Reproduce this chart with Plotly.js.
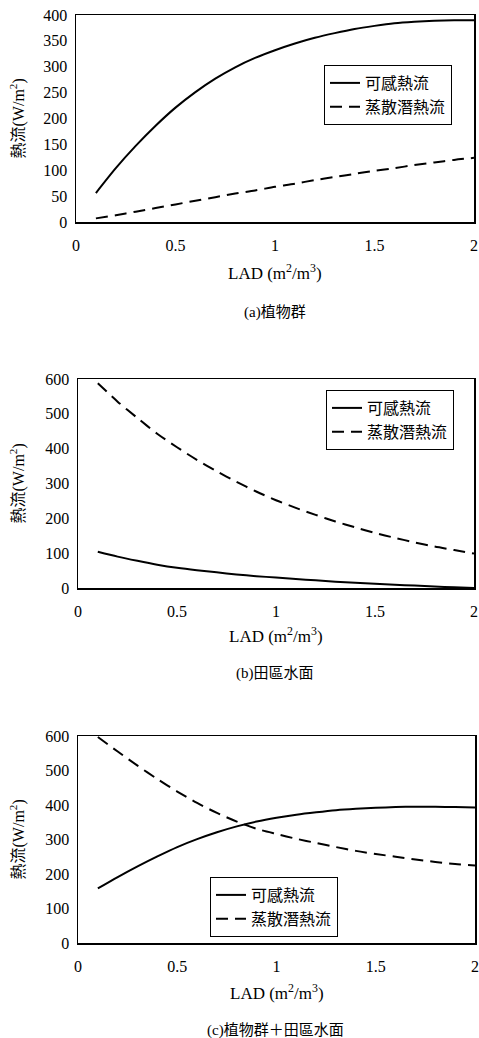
<!DOCTYPE html>
<html>
<head>
<meta charset="utf-8">
<script src="https://cdn.plot.ly/plotly-3.0.1.min.js"></script>
<style>
html,body{margin:0;padding:0;background:#fff;}
#chart{width:479px;height:1038px;}
</style>
</head>
<body>
<div id="chart"></div>
<script>
// LAD (m2/m3)
const lad = [0.1,0.2,0.3,0.4,0.5,0.6,0.7,0.8,0.9,1.0,1.1,1.2,1.3,1.4,1.5,1.6,1.7,1.8,1.9,2.0];

// (a) 植物群
const sensibleA = [56,104,147,186,221,251,277,299,317,332,345,356,365,373,379,384,387,389,390,390];
const latentA   = [7,13,20,27,34,41,48,55,61,68,74,81,87,93,99,104,110,115,120,124];

// (b) 田區水面
const sensibleB = [104,90,78,67,58,51,45,39,34,30,26,22,18,15,12,9,7,4,2,0];
const latentB   = [588,535,488,443,404,368,335,305,277,252,230,210,191,174,158,144,131,119,109,99];

// (c) 植物群＋田區水面
const sensibleC = [158,191,222,251,278,301,321,338,352,363,372,379,385,389,392,394,395,395,394,393];
const latentC   = [597,555,514,475,439,406,377,352,331,316,302,290,278,267,258,250,242,235,229,225];

const seriesNames = ['可感熱流', '蒸散潛熱流'];
const captions = ['(a)植物群', '(b)田區水面', '(c)植物群＋田區水面'];
const yTitle = '熱流(W/m<sup>2</sup>)';
const xTitle = 'LAD (m<sup>2</sup>/m<sup>3</sup>)';
const yRanges = [[0,400],[0,600],[0,600]];
const yDticks = [50,100,100];

const W = 479, H = 1038;
const px = v => v / W;
const py = v => 1 - v / H;

// panel geometry (pixels)
const panels = [
  {l:76, r:474, t:15,  b:222, legX:324, legY:65,  xt:272, cap:312},
  {l:78, r:474, t:379, b:588, legX:326, legY:390, xt:635, cap:673},
  {l:78, r:475, t:736, b:943, legX:210, legY:877, xt:992, cap:1030}
];

const serif = "'Liberation Serif', 'Times New Roman', serif";
const cjk = "'Liberation Serif', 'Noto Sans CJK TC', serif";

const dataSets = [[sensibleA, latentA],[sensibleB, latentB],[sensibleC, latentC]];
const traces = [];
dataSets.forEach((pair, i) => {
  const sfx = i === 0 ? '' : String(i + 1);
  traces.push({
    x: lad, y: pair[0], type: 'scatter', mode: 'lines', name: seriesNames[0],
    line: {color: '#000', width: 2, shape: 'spline', smoothing: 0.8},
    xaxis: 'x' + sfx, yaxis: 'y' + sfx, legend: 'legend' + sfx, hoverinfo: 'skip'
  });
  traces.push({
    x: lad, y: pair[1], type: 'scatter', mode: 'lines', name: seriesNames[1],
    line: {color: '#000', width: 2, dash: '12px,7px', shape: 'spline', smoothing: 0.8},
    xaxis: 'x' + sfx, yaxis: 'y' + sfx, legend: 'legend' + sfx, hoverinfo: 'skip'
  });
});

const layout = {
  width: W, height: H,
  margin: {l: 0, r: 0, t: 0, b: 0},
  paper_bgcolor: '#fff', plot_bgcolor: '#fff',
  font: {family: serif, color: '#000'},
  annotations: []
};

panels.forEach((p, i) => {
  const sfx = i === 0 ? '' : String(i + 1);
  layout['xaxis' + sfx] = {
    domain: [px(p.l), px(p.r)], anchor: 'y' + sfx,
    range: [0, 2], dtick: 0.5, tick0: 0,
    showline: true, mirror: true, linecolor: '#000', linewidth: 1.5,
    showgrid: false, zeroline: false, ticks: '', automargin: false,
    tickfont: {family: serif, size: 16, color: '#000'}, ticklabelstandoff: 8
  };
  layout['yaxis' + sfx] = {
    domain: [py(p.b), py(p.t)], anchor: 'x' + sfx,
    range: yRanges[i], dtick: yDticks[i], tick0: 0,
    showline: true, mirror: true, linecolor: '#000', linewidth: 1.5,
    showgrid: false, zeroline: false, ticks: '', automargin: false,
    tickfont: {family: serif, size: 16, color: '#000'}, ticklabelstandoff: 4
  };
  layout['legend' + sfx] = {
    x: px(p.legX), y: py(p.legY), xanchor: 'left', yanchor: 'top',
    xref: 'paper', yref: 'paper',
    bgcolor: '#fff', bordercolor: '#000', borderwidth: 1,
    font: {family: "'Noto Sans CJK TC', serif", size: 16, color: '#000'},
    tracegroupgap: 0
  };
  layout.annotations.push({
    text: yTitle, xref: 'paper', yref: 'paper',
    x: px(18), y: py((p.t + p.b) / 2), textangle: -90,
    showarrow: false, xanchor: 'center', yanchor: 'middle',
    font: {family: cjk, size: 16, color: '#000'}
  });
  layout.annotations.push({
    text: xTitle, xref: 'paper', yref: 'paper',
    x: px((p.l + p.r) / 2), y: py(p.xt),
    showarrow: false, xanchor: 'center', yanchor: 'middle',
    font: {family: serif, size: 17, color: '#000'}
  });
  layout.annotations.push({
    text: captions[i], xref: 'paper', yref: 'paper',
    x: px(275), y: py(p.cap),
    showarrow: false, xanchor: 'center', yanchor: 'middle',
    font: {family: cjk, size: 15, color: '#000'}
  });
});

Plotly.newPlot('chart', traces, layout, {staticPlot: true, displayModeBar: false});
</script>
</body>
</html>
